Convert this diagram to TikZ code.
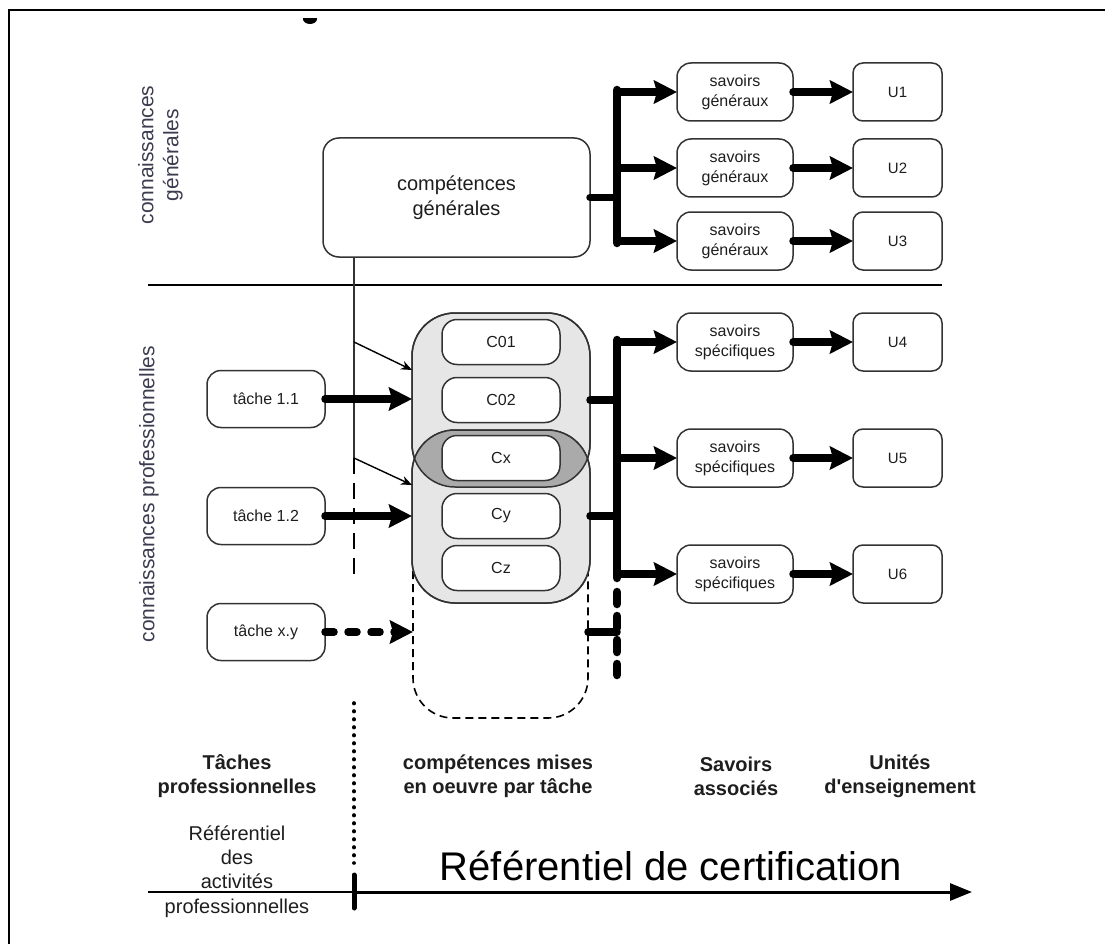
\documentclass[tikz,border=0pt]{standalone}
\usepackage{fontspec}
\setmainfont{Liberation Sans}
\usetikzlibrary{arrows.meta}
\definecolor{txt}{HTML}{1E1E1E}
\definecolor{lbl}{HTML}{3C3C50}
\definecolor{edge}{HTML}{333333}
\definecolor{grpfill}{HTML}{E6E6E6}
\definecolor{lensfill}{HTML}{AAAAAA}
\begin{document}
\begin{tikzpicture}[x=1pt,y=-1pt,
  box/.style={draw=edge, line width=1.5pt, fill=white, rounded corners=14pt, inner sep=0pt, outer sep=0pt, align=center, text=txt, font=\fontsize{16}{20}\selectfont},
  sbox/.style={box, minimum width=116pt, minimum height=58pt},
  ubox/.style={box, minimum width=89pt, minimum height=58pt, rounded corners=10pt, font=\fontsize{15}{18}\selectfont},
  tbox/.style={box, minimum width=118pt, minimum height=57pt},
  cbox/.style={box, minimum width=118pt, minimum height=45pt, rounded corners=15pt},
  grp/.style={draw=edge, line width=1.5pt, fill=grpfill, rounded corners=43pt, inner sep=0pt, outer sep=0pt, minimum width=178pt},
  grpdash/.style={draw=black, line width=1.6pt, dash pattern=on 8pt off 5pt, rounded corners=40pt, inner sep=0pt, outer sep=0pt},
  thickarrow/.style={line width=7.5pt, line cap=round, -{Stealth[length=23pt,width=23pt,inset=3pt]}},
  stub/.style={line width=7.5pt, line cap=round},
  trunk/.style={line width=8.5pt, line cap=round},
  thinarrow/.style={line width=1.4pt, -{Stealth[length=11pt,width=9pt]}},
  hdr/.style={align=center, inner sep=0pt, text=txt, font=\bfseries\fontsize{20}{24}\selectfont},
  side/.style={rotate=90, align=center, inner sep=0pt, text=lbl, font=\fontsize{21}{25}\selectfont}
]
\useasboundingbox (0,0) rectangle (1105,944);

% frame and clipped remnant at top
\draw[line width=2pt] (9,944) -- (9,10) -- (1105,10);
\begin{scope}
  \clip (300,19) rectangle (320,30);
  \fill (310,19) ellipse [x radius=7, y radius=5];
\end{scope}

% separator
\draw[line width=1.5pt] (148,285) -- (942,285);

% side labels
\node[side] (lg) at (160.5,155) {connaissances\\générales};
\node[side] (lp) at (149,494) {connaissances professionnelles};

% general part
\node[box, minimum width=267pt, minimum height=119pt, rounded corners=16pt, font=\fontsize{20}{25}\selectfont] (cg) at (456.5,197.5) {compétences\\générales};
\node[sbox] (s1) at (735,92) {savoirs\\généraux};
\node[sbox] (s2) at (735,168) {savoirs\\généraux};
\node[sbox] (s3) at (735,241) {savoirs\\généraux};
\node[ubox] (u1) at (897.5,92) {U1};
\node[ubox] (u2) at (897.5,168) {U2};
\node[ubox] (u3) at (897.5,241) {U3};

\coordinate (tg0) at (617,90);
\coordinate (tg4) at (617,243);
\draw[trunk] (tg0) -- (tg4);
\draw[stub] (cg.east) -- (cg.east -| tg0);
\draw[thickarrow] (s1.west -| tg0) -- (s1.west);
\draw[thickarrow] (s2.west -| tg0) -- (s2.west);
\draw[thickarrow] (s3.west -| tg0) -- (s3.west);
\draw[thickarrow] (s1.east) -- (u1.west);
\draw[thickarrow] (s2.east) -- (u2.west);
\draw[thickarrow] (s3.east) -- (u3.west);

% competence groups
\node[grpdash, minimum width=175pt, minimum height=198pt] (gX) at (500.5,619) {};
\node[grp, minimum height=174pt] (gA) at (501,400) {};
\node[grp, minimum height=173pt] (gB) at (501,516.5) {};
\begin{scope}
  \clip[rounded corners=43pt] (gA.north west) rectangle (gA.south east);
  \fill[lensfill, rounded corners=43pt] (gB.north west) rectangle (gB.south east);
\end{scope}
\draw[edge, line width=1.5pt, rounded corners=43pt] (gA.north west) rectangle (gA.south east);
\draw[edge, line width=1.5pt, rounded corners=43pt] (gB.north west) rectangle (gB.south east);

\node[cbox] (c1) at (501,342) {C01};
\node[cbox] (c2) at (501,400) {C02};
\node[cbox] (cx) at (501,458) {Cx};
\node[cbox] (cy) at (501,516) {Cy};
\node[cbox] (cz) at (501,568) {Cz};

% tasks
\node[tbox] (t1) at (266,399) {tâche 1.1};
\node[tbox] (t2) at (266,516) {tâche 1.2};
\node[tbox] (t3) at (266,632) {tâche x.y};

% thin vertical line from general competences
\coordinate (v1) at (354,458);
\coordinate (v2) at (354,575);
\coordinate (a1) at (354,342);
\coordinate (a1e) at (412,370);
\coordinate (a2e) at (412,485);
\draw[edge, line width=1.5pt] (cg.south -| v1) -- (v1);
\draw[black, line width=2.8pt, dash pattern=on 16pt off 9pt] (v1) -- (v2);
\draw[thinarrow] (a1) -- (a1e);
\draw[thinarrow] (v1) -- (a2e);

% task arrows
\draw[thickarrow] (t1.east) -- (t1.east -| gA.west);
\draw[thickarrow] (t2.east) -- (t2.east -| gB.west);
\draw[thickarrow, dash pattern=on 9pt off 14pt] (t3.east) -- (t3.east -| gX.west);

% specific part
\node[sbox] (s4) at (735,342) {savoirs\\spécifiques};
\node[sbox] (s5) at (735,458) {savoirs\\spécifiques};
\node[sbox] (s6) at (735,574) {savoirs\\spécifiques};
\node[ubox] (u4) at (897.5,342) {U4};
\node[ubox] (u5) at (897.5,458) {U5};
\node[ubox] (u6) at (897.5,574) {U6};

\coordinate (ts0) at (617,340);
\coordinate (ts4) at (617,578);
\coordinate (ts5) at (617,592);
\coordinate (ts6) at (617,675);
\draw[trunk] (ts0) -- (ts4);
\draw[trunk, dash pattern=on 12pt off 12pt] (ts5) -- (ts6);
\draw[stub] (c2 -| gA.east) -- (c2 -| ts0);
\draw[stub] (cy -| gB.east) -- (cy -| ts0);
\draw[stub] (t3 -| gX.east) -- (t3 -| ts0);
\draw[thickarrow] (s4.west -| ts0) -- (s4.west);
\draw[thickarrow] (s5.west -| ts0) -- (s5.west);
\draw[thickarrow] (s6.west -| ts0) -- (s6.west);
\draw[thickarrow] (s4.east) -- (u4.west);
\draw[thickarrow] (s5.east) -- (u5.west);
\draw[thickarrow] (s6.east) -- (u6.west);

% bottom headers
\node[hdr] (h1) at (237,776) {Tâches\\professionnelles};
\node[hdr] (h2) at (498,776) {compétences mises\\en oeuvre par tâche};
\node[hdr] (h3) at (736,776) {Savoirs\\associés};
\node[hdr] (h4) at (900,776) {Unités\\d\textquotesingle enseignement};
\node[align=center, inner sep=0pt, text=txt, font=\fontsize{20}{24.3}\selectfont] (h5) at (237,871.5) {Référentiel\\des\\activités\\professionnelles};
\node[anchor=base, inner sep=0pt, text=black, font=\fontsize{40}{46}\selectfont] (big) at (671,880) {Référentiel de certification};

% bottom axis
\coordinate (bl) at (148,892);
\coordinate (bm) at (354,892);
\coordinate (br) at (972,892);
\coordinate (d1) at (354,703);
\coordinate (d2) at (354,863);
\coordinate (k1) at (354,875);
\coordinate (k2) at (354,908);
\draw[line width=1.5pt] (bl) -- (bm);
\draw[line width=3pt, -{Triangle[length=22pt,width=17pt]}] (bm) -- (br);
\draw[line width=3.6pt, line cap=round, dash pattern=on 0.6pt off 7.4pt] (d1) -- (d2);
\draw[line width=5pt, line cap=round] (k1) -- (k2);
\end{tikzpicture}
\end{document}
